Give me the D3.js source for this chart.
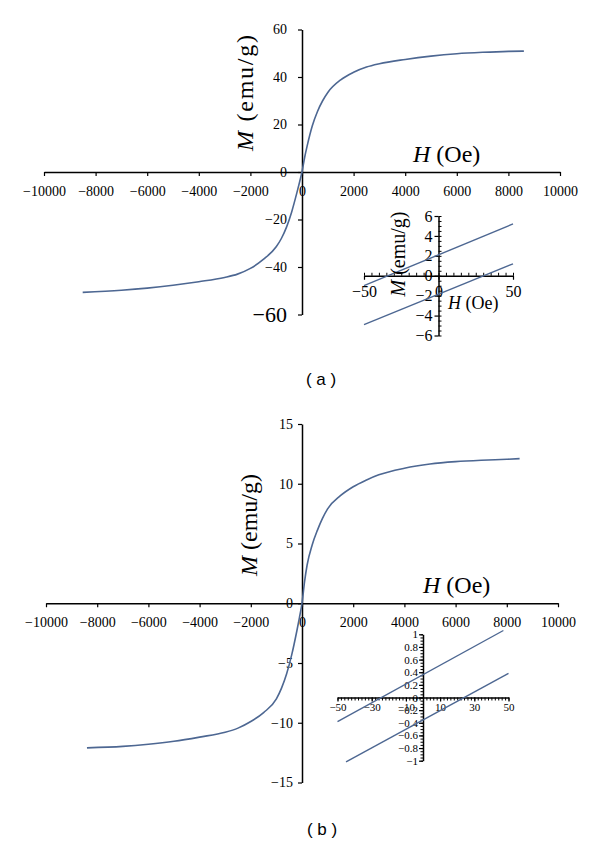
<!DOCTYPE html>
<html>
<head>
<meta charset="utf-8">
<script src="https://cdn.jsdelivr.net/npm/d3@7"></script>
<style>
    body { margin: 0; background: #fff; }
</style>
</head>
<body>
<div id="main"></div>
<script>
// ---- data ----
// panel (a): full M-H curve
const fieldA  = [-8500, -7000, -6000, -5000, -4000, -3000, -2500, -2000, -1500, -1000, -800, -600, -400, -200, -100, 0,
                 100, 200, 400, 600, 800, 1000, 1500, 2000, 2500, 3000, 4000, 5000, 6000, 7000, 8000, 8600];
const momentA = [-50.7, -49.8, -48.9, -47.7, -46.2, -44.4, -43.0, -40.6, -36.8, -31.5, -28.0, -23.2, -16.8, -8.8, -4.5, 0,
                 6.0, 11.0, 19.5, 25.5, 30.0, 33.5, 38.8, 42.0, 44.2, 45.6, 47.4, 48.8, 49.8, 50.4, 50.8, 50.9];
// panel (b): full M-H curve
const fieldB  = [-8400, -7000, -6000, -5000, -4000, -3000, -2500, -2000, -1500, -1000, -800, -600, -400, -200, -100, 0,
                 100, 200, 400, 600, 800, 1000, 1500, 2000, 2500, 3000, 4000, 5000, 6000, 7000, 8000, 8500];
const momentB = [-12.1, -11.98, -11.8, -11.55, -11.2, -10.8, -10.45, -9.9, -9.15, -8.0, -7.1, -5.9, -4.3, -2.3, -1.2, 0,
                 1.8, 3.2, 4.9, 6.1, 7.1, 7.9, 9.0, 9.75, 10.3, 10.75, 11.3, 11.65, 11.85, 11.97, 12.05, 12.1];
// insets: low-field loops
const loopAField = [-50, 50];
const loopAUpper = [-1.0, 5.2];
const loopALower = [-4.9, 1.2];
const loopBUpperField = [-50, 47];
const loopBUpper = [-0.38, 1.06];
const loopBLowerField = [-45, 50];
const loopBLower = [-1.02, 0.38];
// tick labels
const ticksH  = [-10000, -8000, -6000, -4000, -2000, 0, 2000, 4000, 6000, 8000, 10000];
const ticksMA = [-60, -40, -20, 0, 20, 40, 60];
const ticksMB = [-15, -10, -5, 0, 5, 10, 15];
const ticksInsetAH = [-50, 0, 50];
const ticksInsetAM = [-6, -4, -2, 0, 2, 4, 6];
const ticksInsetBH = [-50, -30, -10, 10, 30, 50];
const ticksInsetBM = [-1, -0.8, -0.6, -0.4, -0.2, 0, 0.2, 0.4, 0.6, 0.8, 1];

const LINE = "#4d6792";
const SERIF = "'Liberation Serif', 'Times New Roman', 'DejaVu Serif', serif";
const SANS = "'Liberation Sans', Arial, sans-serif";

const svg = d3.select("#main").append("svg")
    .attr("width", 600)
    .attr("height", 843)
    .style("font-family", SERIF);

function zip(a, b) { return a.map((v, i) => [v, b[i]]); }

function styleAxis(g, size) {
    g.attr("font-size", size)
     .attr("font-family", null)
     .style("font-family", SERIF);
    g.select(".domain").attr("stroke-width", 1.5);
    g.selectAll(".tick line").attr("stroke-width", 1.2);
}

function drawCurve(x, y, pts, width) {
    const line = d3.line()
        .x(d => x(d[0]))
        .y(d => y(d[1]))
        .curve(d3.curveMonotoneX);
    svg.append("path")
        .attr("d", line(pts))
        .attr("fill", "none")
        .attr("stroke", LINE)
        .attr("stroke-width", width);
}

function mainPanel(cfg) {
    const x = d3.scaleLinear().domain([-10000, 10000]).range(cfg.xr);
    const y = d3.scaleLinear().domain(cfg.yd).range(cfg.yr);

    const gx = svg.append("g")
        .attr("transform", `translate(0,${y(0)})`)
        .call(d3.axisBottom(x).tickValues(ticksH).tickSize(4).tickSizeOuter(0)
            .tickPadding(cfg.xPad).tickFormat(d3.format("d")));
    styleAxis(gx, 14);

    const gy = svg.append("g")
        .attr("transform", `translate(${x(0)},0)`)
        .call(d3.axisLeft(y).tickValues(cfg.yTicks).tickSize(4).tickSizeOuter(0)
            .tickPadding(cfg.yPad).tickFormat(d3.format("d")));
    styleAxis(gy, 14);
    if (cfg.bigLabel !== undefined) {
        gy.selectAll(".tick text").filter(d => d === cfg.bigLabel).attr("font-size", 22);
    }

    drawCurve(x, y, cfg.pts, 1.6);

    // axis titles
    const mt = svg.append("text")
        .attr("transform", `translate(${cfg.mPos[0]},${cfg.mPos[1]}) rotate(-90)`)
        .attr("text-anchor", "middle")
        .attr("font-size", 24);
    if (cfg.mLen) mt.attr("textLength", cfg.mLen).attr("lengthAdjust", "spacing");
    mt.append("tspan").attr("font-style", "italic").text("M");
    mt.append("tspan").text(" (emu/g)");

    const ht = svg.append("text")
        .attr("x", cfg.hPos[0]).attr("y", cfg.hPos[1])
        .attr("font-size", 24);
    ht.append("tspan").attr("font-style", "italic").text("H");
    ht.append("tspan").text(" (Oe)");

    svg.append("text")
        .attr("x", cfg.cap[0]).attr("y", cfg.cap[1])
        .attr("text-anchor", "middle")
        .style("font-family", SANS)
        .attr("font-size", 17)
        .text(cfg.capText);
}

// ---- panel (a) ----
mainPanel({
    xr: [44, 560], yd: [-60, 60], yr: [314.5, 29.5],
    yTicks: ticksMA, xPad: 10.5, yPad: 11, bigLabel: -60,
    pts: zip(fieldA, momentA),
    mPos: [253, 93], mLen: 116, hPos: [413, 162],
    cap: [321, 385], capText: "( a )"
});

// ---- panel (b) ----
mainPanel({
    xr: [46, 558], yd: [-15, 15], yr: [782.5, 424],
    yTicks: ticksMB, xPad: 9.5, yPad: 5,
    pts: zip(fieldB, momentB),
    mPos: [256.5, 525], hPos: [423, 593],
    cap: [322, 835], capText: "( b )"
});

// ---- inset (a) ----
{
    const x = d3.scaleLinear().domain([-50, 50]).range([364, 513]);
    const y = d3.scaleLinear().domain([-6, 6]).range([335.5, 216]);

    const minorX = svg.append("g").attr("transform", `translate(0,${y(0)})`)
        .call(d3.axisTop(x).tickValues(d3.range(-50, 51, 5)).tickSize(3).tickFormat(""));
    minorX.select(".domain").remove();
    const gx = svg.append("g").attr("transform", `translate(0,${y(0)})`)
        .call(d3.axisBottom(x).tickValues(ticksInsetAH).tickSize(4).tickSizeOuter(0)
            .tickPadding(5.5).tickFormat(d3.format("d")));
    styleAxis(gx, 16);

    const minorY = svg.append("g").attr("transform", `translate(${x(0)},0)`)
        .call(d3.axisRight(y).tickValues(d3.range(-6, 6.01, 0.5)).tickSize(3).tickFormat(""));
    minorY.select(".domain").remove();
    const gy = svg.append("g").attr("transform", `translate(${x(0)},0)`)
        .call(d3.axisLeft(y).tickValues(ticksInsetAM).tickSize(4).tickSizeOuter(0)
            .tickPadding(2).tickFormat(d3.format("d")));
    styleAxis(gy, 16);

    drawCurve(x, y, zip(loopAField, loopAUpper), 1.4);
    drawCurve(x, y, zip(loopAField, loopALower), 1.4);

    const mt = svg.append("text")
        .attr("transform", "translate(405,254) rotate(-90)")
        .attr("text-anchor", "middle")
        .attr("font-size", 20);
    mt.append("tspan").attr("font-style", "italic").text("M");
    mt.append("tspan").text(" (emu/g)");

    const ht = svg.append("text").attr("x", 448).attr("y", 309).attr("font-size", 18);
    ht.append("tspan").attr("font-style", "italic").text("H");
    ht.append("tspan").text(" (Oe)");
}

// ---- inset (b) ----
{
    const x = d3.scaleLinear().domain([-50, 50]).range([337.5, 508.5]);
    const y = d3.scaleLinear().domain([-1, 1]).range([760.7, 634.3]);

    const minorX = svg.append("g").attr("transform", `translate(0,${y(0)})`)
        .call(d3.axisBottom(x).tickValues(d3.range(-50, 51, 2)).tickSize(3).tickFormat(""));
    minorX.select(".domain").remove();
    const gx = svg.append("g").attr("transform", `translate(0,${y(0)})`)
        .call(d3.axisBottom(x).tickValues(ticksInsetBH).tickSize(4).tickSizeOuter(0)
            .tickPadding(1.5).tickFormat(d3.format("d")));
    styleAxis(gx, 11);

    const minorY = svg.append("g").attr("transform", `translate(${x(0)},0)`)
        .call(d3.axisLeft(y).tickValues(d3.range(-20, 21).map(v => v / 20)).tickSize(2.5).tickFormat(""));
    minorY.select(".domain").remove();
    const gy = svg.append("g").attr("transform", `translate(${x(0)},0)`)
        .call(d3.axisLeft(y).tickValues(ticksInsetBM).tickSize(4).tickSizeOuter(0)
            .tickPadding(1).tickFormat(d3.format("")));
    styleAxis(gy, 11);

    drawCurve(x, y, zip(loopBUpperField, loopBUpper), 1.4);
    drawCurve(x, y, zip(loopBLowerField, loopBLower), 1.4);
}
</script>
</body>
</html>
